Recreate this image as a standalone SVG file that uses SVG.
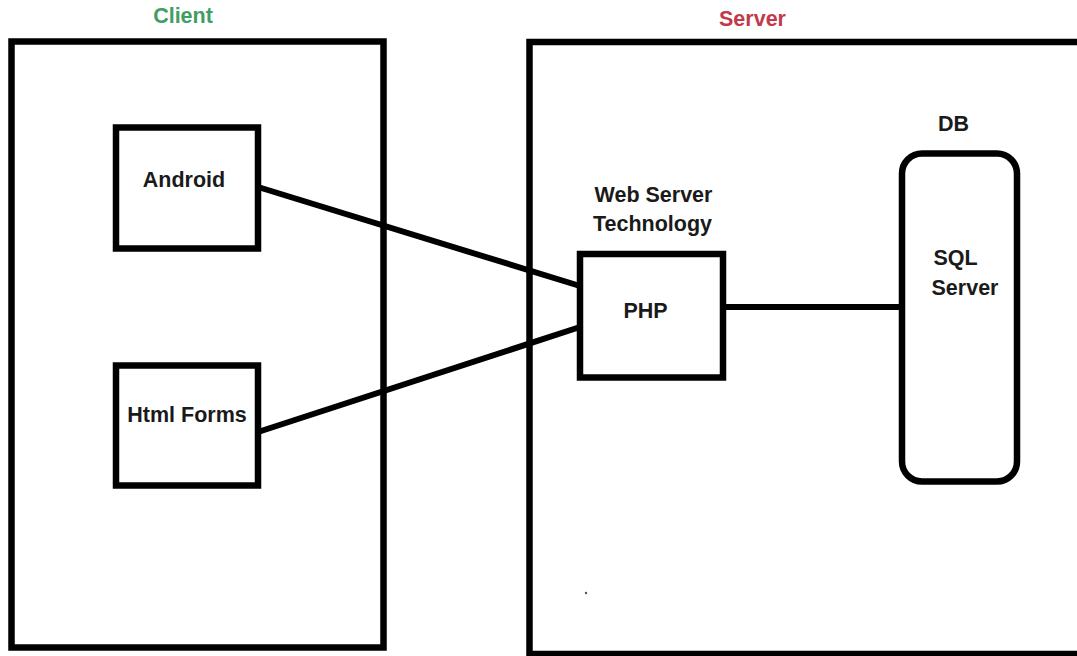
<svg xmlns="http://www.w3.org/2000/svg" width="1077" height="656" viewBox="0 0 1077 656">
<style>
.box{fill:none;stroke:#000;stroke-width:6.5}
.conn{stroke:#000;stroke-width:6;fill:none}
text{font-family:"Liberation Sans",Arial,sans-serif;font-weight:bold;font-size:21.5px;fill:#1a1a1a;text-anchor:middle}
.green{fill:#3f9e62}
.red{fill:#c23a4a}
</style>
<rect width="1077" height="656" fill="#fff"/>
<g id="client">
<rect class="box" x="11.5" y="41.5" width="372" height="606"/>
<text class="green" x="183" y="23">Client</text>
</g>
<g id="server">
<rect class="box" x="529.5" y="42" width="560" height="612"/>
<text class="red" x="752.5" y="26">Server</text>
<circle cx="586" cy="593" r="1.2" fill="#555"/>
</g>
<g id="connectors">
<line class="conn" x1="258" y1="187" x2="580" y2="286"/>
<line class="conn" x1="258" y1="432" x2="580" y2="327"/>
<line class="conn" x1="723" y1="307" x2="902" y2="307"/>
</g>
<g id="android">
<rect class="box" x="116" y="127.5" width="142" height="121"/>
<text x="184" y="187">Android</text>
</g>
<g id="htmlforms">
<rect class="box" x="116" y="365.5" width="142" height="120"/>
<text x="187" y="422">Html Forms</text>
</g>
<g id="php">
<text x="653.5" y="202">Web Server</text>
<text x="652.5" y="231">Technology</text>
<rect class="box" x="580" y="254" width="143" height="123.5"/>
<text x="645.5" y="318">PHP</text>
</g>
<g id="db">
<text x="953.5" y="131">DB</text>
<rect class="box" x="902" y="153.5" width="115" height="328" rx="20" ry="20"/>
<text x="955.5" y="265">SQL</text>
<text x="965" y="295">Server</text>
</g>
</svg>
